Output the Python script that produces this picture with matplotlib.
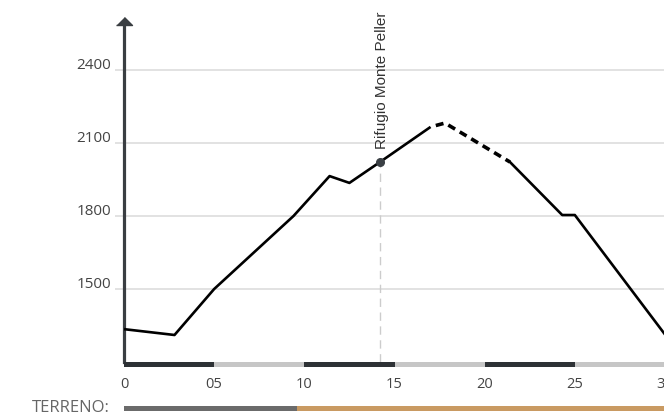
import matplotlib
matplotlib.use("Agg")
import matplotlib.pyplot as plt

# ---- data ----
km_a = [0.0, 2.8, 5.0, 9.4, 11.4, 12.5, 14.2, 17.0]
ele_a = [1335, 1311, 1500, 1800, 1964, 1936, 2022, 2166]
km_dash = [17.0, 17.8, 21.4]
ele_dash = [2166, 2182, 2022]
km_b = [21.4, 24.3, 25.0, 30.0]
ele_b = [2022, 1804, 1804, 1313]

poi_km = 14.2
poi_ele = 2022
poi_label = "Rifugio Monte Peller"

y_ticks = [1500, 1800, 2100, 2400]
x_ticks = [0, 5, 10, 15, 20, 25, 30]
x_tick_labels = ["0", "05", "10", "15", "20", "25", "30"]

terrain_starts = [0.0, 9.6]
terrain_ends = [9.6, 31.0]
terrain_colors = ["#6b6b6b", "#c99a62"]
terrain_label = "TERRENO:"

W, H = 664, 417
fig = plt.figure(figsize=(W / 100, H / 100), dpi=100)

# axes in pixel layout
ax_left, ax_right = 124, 665
ax_bottom, ax_top = 362, 25
ax = fig.add_axes([ax_left / W, (H - ax_bottom) / H,
                   (ax_right - ax_left) / W, (ax_bottom - ax_top) / H])
px_per_m = 73 / 300.0
y0 = 1200
y1 = 2400 + (70 - ax_top) / px_per_m
ax.set_xlim(0, 30)
ax.set_ylim(y0, y1)
for s in ["top", "right", "bottom"]:
    ax.spines[s].set_visible(False)
ax.spines["left"].set_color("#3a3e42")
ax.spines["left"].set_linewidth(2.3)
ax.set_xticks([])
ax.set_yticks([])

# arrow head on y axis
ax.plot([0], [y1], marker=[(-1, 0), (1, 0), (0, 1)], markersize=11.5,
        color="#3a3e42", clip_on=False, zorder=6)

# grid lines
ax.hlines(y_ticks, -0.5, 31, colors="#dddddd", linewidth=1.2, clip_on=False, zorder=0)

ytr = ax.get_yaxis_transform()
for v in y_ticks:
    ax.annotate(str(v), xy=(0, v), xycoords=ytr, xytext=(-9.5, 0.5),
                textcoords="offset points", ha="right", va="baseline",
                fontsize=11, color="#444444", family="Open Sans")

xtr = ax.get_xaxis_transform()
for v, lab in zip(x_ticks, x_tick_labels):
    ax.annotate(lab, xy=(v, 0), xycoords=xtr, xytext=(0, -16),
                textcoords="offset points", ha="center", va="center",
                fontsize=10.5, color="#444444", family="Open Sans",
                annotation_clip=False)

# km bars under axis
bar_h = 5 / px_per_m
for i in range(6):
    col = "#2d3135" if i % 2 == 0 else "#c6c6c6"
    ax.broken_barh([(i * 5, 5)], (y0 - bar_h, bar_h), facecolors=col,
                   clip_on=False, zorder=3)

# terrain bar
t_top = y0 - (406 - ax_bottom) / px_per_m
t_h = 5 / px_per_m
for s, e, c in zip(terrain_starts, terrain_ends, terrain_colors):
    ax.broken_barh([(s, e - s)], (t_top - t_h, t_h), facecolors=c,
                   clip_on=False, zorder=3)
ax.annotate(terrain_label, xy=(0, t_top - t_h / 2), xycoords="data",
            xytext=(-10, 0), textcoords="offset points", ha="right",
            va="center", fontsize=12, color="#666666", family="Open Sans",
            annotation_clip=False)

# profile
ax.plot(km_a, ele_a, color="black", linewidth=1.9, solid_capstyle="butt", zorder=4)
ax.plot(km_dash, ele_dash, color="black", linewidth=2.6,
        linestyle=(2.2, (2.2, 1.5)), zorder=4)
ax.plot(km_b, ele_b, color="black", linewidth=1.9, clip_on=False, zorder=4)

# point of interest
ax.vlines(poi_km, y0, poi_ele, colors="#cccccc", linewidth=1.0,
          linestyles=(0, (6, 4)), zorder=2)
ax.plot([poi_km], [poi_ele], "o", color="#3a3f44", markersize=5.5, zorder=5)
ax.annotate(poi_label, xy=(poi_km, poi_ele), xytext=(1.5, 9),
            textcoords="offset points", rotation=90, ha="center", va="bottom",
            fontsize=11, color="#333333", family="Liberation Sans",
            annotation_clip=False)

fig.savefig("out.png", dpi=100)
